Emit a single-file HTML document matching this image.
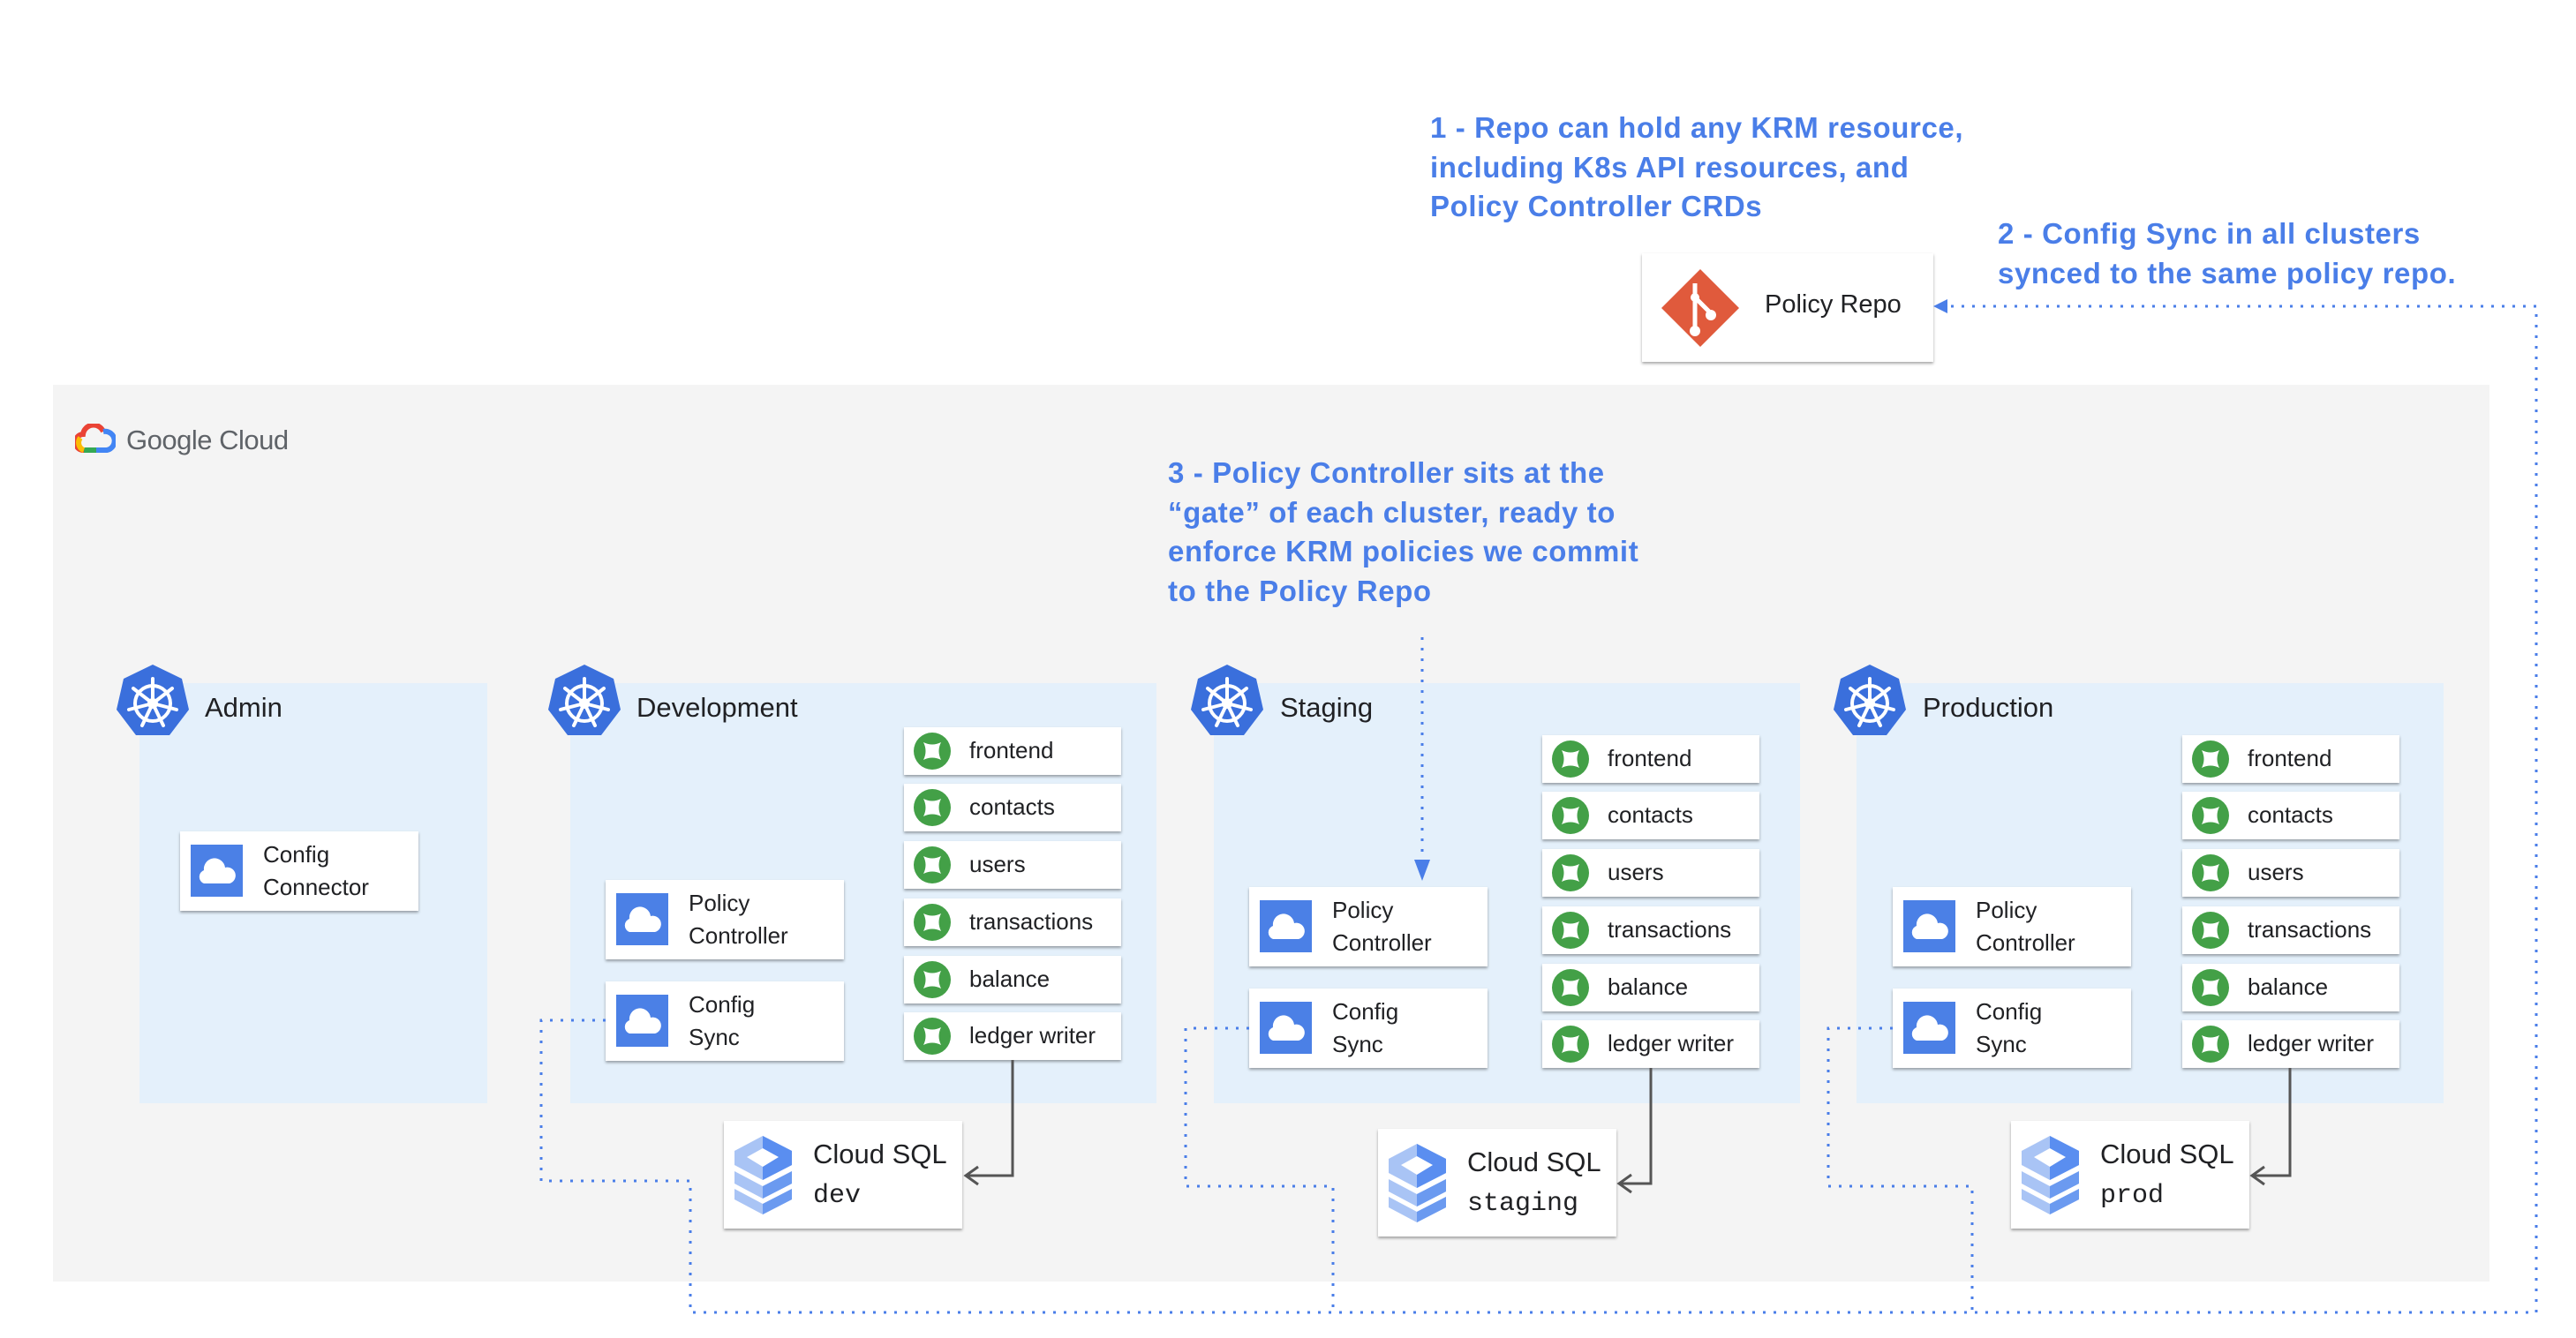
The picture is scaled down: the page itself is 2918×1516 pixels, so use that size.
<!DOCTYPE html>
<html><head><meta charset="utf-8"><style>
*{margin:0;padding:0;box-sizing:border-box}
body{width:2918px;height:1516px;background:#fff;position:relative;overflow:hidden;font-family:"Liberation Sans",sans-serif;color:#202124}
.abs{position:absolute}
.gray{left:60px;top:436px;width:2760px;height:1016px;background:#f4f4f4}
.panel{background:#e4f0fb;top:774px;height:476px}
.card{position:absolute;background:#fff;box-shadow:0 2px 3px rgba(0,0,0,.35)}
.svc{width:246px;height:54px}
.svc svg{position:absolute;left:11px;top:6px}
.svc span{position:absolute;left:74px;top:0;line-height:52px;font-size:26px}
.comp{width:270px;height:90px}
.comp .ic{position:absolute;left:12px;top:15px;width:59px;height:59px;background:#4b80e6}
.comp .ic svg{position:absolute;left:6px;top:10px}
.comp span{position:absolute;left:94px;top:8px;font-size:26px;line-height:37px}
.sql{width:270px;height:122px}
.sql svg{position:absolute;left:12px;top:17px}
.sql .t{position:absolute;left:101px;top:16px;font-size:31px;line-height:44px}
.sql .m{font-family:"Liberation Mono",monospace;font-size:30px}
.title{position:absolute;font-size:31px;line-height:36px}
.note{position:absolute;color:#4a7ee8;font-weight:bold;font-size:33px;line-height:44.5px;letter-spacing:0.6px;white-space:nowrap}
</style></head><body>
<div class="abs gray"></div>
<svg class="abs" style="left:85px;top:480px" width="46" height="36" viewBox="0 0 46 36">
<path d="M10 30 A9 9 0 0 1 9 12 A12 12 0 0 1 32 9" fill="none" stroke="#ea4335" stroke-width="6"/>
<path d="M32 9 A10 10 0 0 1 36 30 L24 30" fill="none" stroke="#4285f4" stroke-width="6"/>
<path d="M24 30 L10 30" fill="none" stroke="#34a853" stroke-width="6"/>
<path d="M10 30 A9 9 0 0 1 6 16" fill="none" stroke="#fbbc04" stroke-width="6"/>
</svg>
<div class="abs" style="left:143px;top:481px;font-size:31px;color:#5f6368;letter-spacing:-0.5px">Google Cloud</div>

<div class="abs panel" style="left:158px;width:394px"></div>
<div class="abs panel" style="left:646px;width:664px"></div>
<div class="abs panel" style="left:1375px;width:664px"></div>
<div class="abs panel" style="left:2103px;width:665px"></div>

<svg width="0" height="0" style="position:absolute"><defs>
<g id="k8s"><polygon points="42,1 75,17 83,52 61,81 23,81 1,52 9,17" fill="#3a6fdc"/>
<g stroke="#fff" stroke-width="4" fill="none" stroke-linecap="round"><circle cx="42" cy="45" r="20"/>
<line x1="42" y1="45" x2="42" y2="17"/><line x1="42" y1="45" x2="64" y2="28"/><line x1="42" y1="45" x2="69" y2="52"/><line x1="42" y1="45" x2="54" y2="70"/><line x1="42" y1="45" x2="30" y2="70"/><line x1="42" y1="45" x2="15" y2="52"/><line x1="42" y1="45" x2="20" y2="28"/></g>
<circle cx="42" cy="45" r="6" fill="#fff"/></g>
<g id="pod"><circle cx="21" cy="21" r="21" fill="#43a047"/><path d="M11 11 Q21 16 31 11 Q26 21 31 31 Q21 26 11 31 Q16 21 11 11Z" fill="#fff"/></g>
<g id="cloud"><path d="M9 34 A8 8 0 0 1 9 19 A12 12 0 0 1 33 16 A9 9 0 0 1 38 34Z" fill="#fff"/></g>
<g id="sqlI"><polygon points="32,0 65,17 65,33 32,50 0,33 0,17" fill="#a9c4f5"/><polygon points="32,0 65,17 65,33 32,50" fill="#5a8ef0"/><polygon points="32,14 50,24 32,35 14,24" fill="#fff"/>
<polygon points="0,40 32,57 65,40 65,54 32,71 0,54" fill="#a9c4f5"/><polygon points="32,57 65,40 65,54 32,71" fill="#6b9af0"/>
<polygon points="0,60 32,77 65,60 65,72 32,89 0,72" fill="#a9c4f5"/><polygon points="32,77 65,60 65,72 32,89" fill="#6b9af0"/></g>
</defs></svg>

<svg class="abs" style="left:131px;top:752px" width="85" height="83"><use href="#k8s"/></svg>
<div class="title" style="left:232px;top:784px">Admin</div>
<svg class="abs" style="left:620px;top:752px" width="85" height="83"><use href="#k8s"/></svg>
<div class="title" style="left:721px;top:784px">Development</div>
<svg class="abs" style="left:1348px;top:752px" width="85" height="83"><use href="#k8s"/></svg>
<div class="title" style="left:1450px;top:784px">Staging</div>
<svg class="abs" style="left:2076px;top:752px" width="85" height="83"><use href="#k8s"/></svg>
<div class="title" style="left:2178px;top:784px">Production</div>

<div class="card comp" style="left:204px;top:942px"><div class="ic"><svg width="46" height="40"><use href="#cloud"/></svg></div><span>Config<br>Connector</span></div>
<div class="card comp" style="left:686px;top:997px"><div class="ic"><svg width="46" height="40"><use href="#cloud"/></svg></div><span>Policy<br>Controller</span></div>
<div class="card comp" style="left:686px;top:1112px"><div class="ic"><svg width="46" height="40"><use href="#cloud"/></svg></div><span>Config<br>Sync</span></div>
<div class="card comp" style="left:1415px;top:1005px"><div class="ic"><svg width="46" height="40"><use href="#cloud"/></svg></div><span>Policy<br>Controller</span></div>
<div class="card comp" style="left:1415px;top:1120px"><div class="ic"><svg width="46" height="40"><use href="#cloud"/></svg></div><span>Config<br>Sync</span></div>
<div class="card comp" style="left:2144px;top:1005px"><div class="ic"><svg width="46" height="40"><use href="#cloud"/></svg></div><span>Policy<br>Controller</span></div>
<div class="card comp" style="left:2144px;top:1120px"><div class="ic"><svg width="46" height="40"><use href="#cloud"/></svg></div><span>Config<br>Sync</span></div>

<div class="card svc" style="left:1024px;top:824px"><svg width="42" height="42"><use href="#pod"/></svg><span>frontend</span></div>
<div class="card svc" style="left:1024px;top:888px"><svg width="42" height="42"><use href="#pod"/></svg><span>contacts</span></div>
<div class="card svc" style="left:1024px;top:953px"><svg width="42" height="42"><use href="#pod"/></svg><span>users</span></div>
<div class="card svc" style="left:1024px;top:1018px"><svg width="42" height="42"><use href="#pod"/></svg><span>transactions</span></div>
<div class="card svc" style="left:1024px;top:1083px"><svg width="42" height="42"><use href="#pod"/></svg><span>balance</span></div>
<div class="card svc" style="left:1024px;top:1147px"><svg width="42" height="42"><use href="#pod"/></svg><span>ledger writer</span></div>
<div class="card svc" style="left:1747px;top:833px"><svg width="42" height="42"><use href="#pod"/></svg><span>frontend</span></div>
<div class="card svc" style="left:1747px;top:897px"><svg width="42" height="42"><use href="#pod"/></svg><span>contacts</span></div>
<div class="card svc" style="left:1747px;top:962px"><svg width="42" height="42"><use href="#pod"/></svg><span>users</span></div>
<div class="card svc" style="left:1747px;top:1027px"><svg width="42" height="42"><use href="#pod"/></svg><span>transactions</span></div>
<div class="card svc" style="left:1747px;top:1092px"><svg width="42" height="42"><use href="#pod"/></svg><span>balance</span></div>
<div class="card svc" style="left:1747px;top:1156px"><svg width="42" height="42"><use href="#pod"/></svg><span>ledger writer</span></div>
<div class="card svc" style="left:2472px;top:833px"><svg width="42" height="42"><use href="#pod"/></svg><span>frontend</span></div>
<div class="card svc" style="left:2472px;top:897px"><svg width="42" height="42"><use href="#pod"/></svg><span>contacts</span></div>
<div class="card svc" style="left:2472px;top:962px"><svg width="42" height="42"><use href="#pod"/></svg><span>users</span></div>
<div class="card svc" style="left:2472px;top:1027px"><svg width="42" height="42"><use href="#pod"/></svg><span>transactions</span></div>
<div class="card svc" style="left:2472px;top:1092px"><svg width="42" height="42"><use href="#pod"/></svg><span>balance</span></div>
<div class="card svc" style="left:2472px;top:1156px"><svg width="42" height="42"><use href="#pod"/></svg><span>ledger writer</span></div>

<div class="card sql" style="left:820px;top:1270px"><svg width="66" height="90"><use href="#sqlI"/></svg><div class="t">Cloud SQL<br><span class="m">dev</span></div></div>
<div class="card sql" style="left:1561px;top:1279px"><svg width="66" height="90"><use href="#sqlI"/></svg><div class="t">Cloud SQL<br><span class="m">staging</span></div></div>
<div class="card sql" style="left:2278px;top:1270px"><svg width="66" height="90"><use href="#sqlI"/></svg><div class="t">Cloud SQL<br><span class="m">prod</span></div></div>

<div class="card" style="left:1860px;top:287px;width:330px;height:123px">
<svg class="abs" style="left:22px;top:18px" width="88" height="88" viewBox="0 0 88 88"><polygon points="44,0 88,44 44,88 0,44" fill="#e05a3c"/>
<g stroke="#fff" stroke-width="5" fill="none"><line x1="38" y1="16" x2="38" y2="70"/><path d="M38 32 L56 50"/></g><circle cx="38" cy="70" r="6" fill="#fff"/><circle cx="56" cy="52" r="6" fill="#fff"/><circle cx="38" cy="32" r="5" fill="#fff"/></svg>
<div class="abs" style="left:139px;top:42px;font-size:29px">Policy Repo</div></div>

<div class="note" style="left:1620px;top:123px">1 - Repo can hold any KRM resource,<br>including K8s API resources, and<br>Policy Controller CRDs</div>
<div class="note" style="left:2263px;top:243px">2 - Config Sync in all clusters<br>synced to the same policy repo.</div>
<div class="note" style="left:1323px;top:514px">3 - Policy Controller sits at the<br>“gate” of each cluster, ready to<br>enforce KRM policies we commit<br>to the Policy Repo</div>

<svg class="abs" style="left:0;top:0" width="2918" height="1516">
<g fill="none" stroke="#4a7ee8" stroke-width="3" stroke-dasharray="3 9">
<path d="M686 1156 H613 V1338 H782 V1487 H2873 V347 H2205"/>
<path d="M1415 1165 H1343 V1344 H1510 V1487"/>
<path d="M2144 1165 H2071 V1344 H2234 V1487"/>
<path d="M1611 722 V975"/>
</g>
<polygon points="2190,347 2206,339 2206,355" fill="#4a7ee8"/>
<polygon points="1611,998 1602,974 1620,974" fill="#4a7ee8"/>
<g fill="none" stroke="#555" stroke-width="3">
<path d="M1147 1201 V1332 H1094"/><path d="M1108 1322 L1094 1332 L1108 1342"/>
<path d="M1870 1210 V1341 H1834"/><path d="M1848 1331 L1834 1341 L1848 1351"/>
<path d="M2594 1210 V1332 H2551"/><path d="M2565 1322 L2551 1332 L2565 1342"/>
</g>
</svg>
</body></html>
